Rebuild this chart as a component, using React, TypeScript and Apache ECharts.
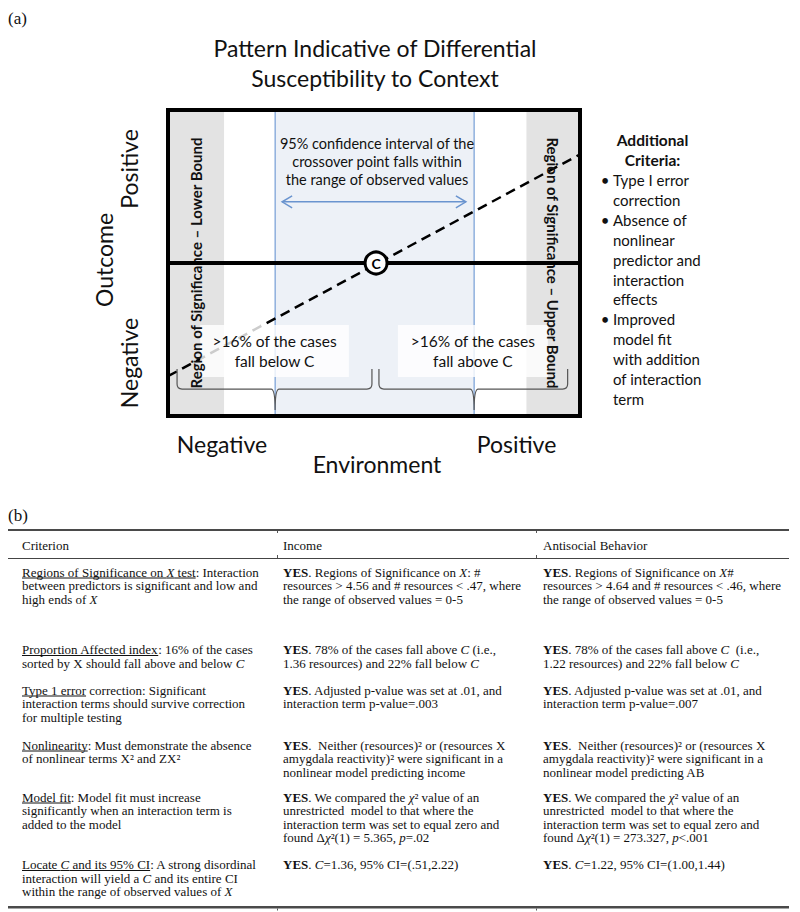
import React, { useEffect, useRef } from "react";
import * as echarts from "echarts";

const SANS = "Lato, 'Open Sans', sans-serif";
const SERIF = "'Liberation Serif', 'Times New Roman', serif";

// ---------- (a) diagram values ----------
const titleLines = ["Pattern Indicative of Differential", "Susceptibility to Context"];
const xRange = [0, 100];
const yRange = [-1, 1];
const lowerRegion = [0, 13.6];
const upperRegion = [87, 100];
const ciRegion = [26, 74.3];
const crossoverPoint = [50.5, 0];
const dashedTrend = [
  [0, -0.74],
  [100, 0.71],
];
const zeroLine = [
  [0, 0],
  [100, 0],
];
const ciArrow = [27.7, 72.3, 0.4];
const ciTextLines = [
  "95% confidence interval of the",
  "crossover point falls within",
  "the range of observed values",
];
const caseBoxes = [
  [7.8, 43.9, -0.405, -0.745],
  [55.8, 92.2, -0.405, -0.745],
];
const caseBoxTexts = [">16% of the cases\nfall below C", ">16% of the cases\nfall above C"];
const braceSpans = [
  [2.2, 26, 49.5],
  [51.2, 74.3, 97],
];
const braceLevels = [-0.693, -0.824, -0.961];
const regionTexts = ["Region of Significance \u2013 Lower Bound", "Region of Significance \u2013 Upper Bound"];
const yAxisWords = ["Positive", "Outcome", "Negative"];
const xAxisWords = ["Negative", "Environment", "Positive"];
const criteriaHeading = ["Additional", "Criteria:"];
const criteriaBullets = [
  ["Type I error", "correction"],
  ["Absence of", "nonlinear", "predictor and", "interaction", "effects"],
  ["Improved", "model fit", "with addition", "of interaction", "term"],
];

// ---------- (b) table values ----------
type Seg = [string, string];
type Line = Seg[];
type Cell = Line[];

const tableHeader = ["Criterion", "Income", "Antisocial Behavior"];

const criterionCol: Cell[] = [
  [
    [["u", "Regions of Significance on "], ["ui", "X"], ["u", " test"], ["n", ": Interaction"]],
    [["n", "between predictors is significant and low and"]],
    [["n", "high ends of "], ["i", "X"]],
  ],
  [
    [["u", "Proportion Affected index"], ["n", ": 16% of the cases"]],
    [["n", "sorted by X should fall above and below "], ["i", "C"]],
  ],
  [
    [["u", "Type 1 error"], ["n", " correction: Significant"]],
    [["n", "interaction terms should survive correction"]],
    [["n", "for multiple testing"]],
  ],
  [
    [["u", "Nonlinearity"], ["n", ": Must demonstrate the absence"]],
    [["n", "of nonlinear terms X\u00b2 and ZX\u00b2"]],
  ],
  [
    [["u", "Model fit"], ["n", ": Model fit must increase"]],
    [["n", "significantly when an interaction term is"]],
    [["n", "added to the model"]],
  ],
  [
    [["u", "Locate "], ["ui", "C"], ["u", " and its 95% CI"], ["n", ": A strong disordinal"]],
    [["n", "interaction will yield a "], ["i", "C"], ["n", " and its entire CI"]],
    [["n", "within the range of observed values of "], ["i", "X"]],
  ],
];

const incomeCol: Cell[] = [
  [
    [["b", "YES"], ["n", ". Regions of Significance on "], ["i", "X"], ["n", ": #"]],
    [["n", "resources > 4.56 and # resources < .47, where"]],
    [["n", "the range of observed values = 0-5"]],
  ],
  [
    [["b", "YES"], ["n", ". 78% of the cases fall above "], ["i", "C"], ["n", " (i.e.,"]],
    [["n", "1.36 resources) and 22% fall below "], ["i", "C"]],
  ],
  [
    [["b", "YES"], ["n", ". Adjusted p-value was set at .01, and"]],
    [["n", "interaction term p-value=.003"]],
  ],
  [
    [["b", "YES"], ["n", ".  Neither (resources)\u00b2 or (resources X"]],
    [["n", "amygdala reactivity)\u00b2 were significant in a"]],
    [["n", "nonlinear model predicting income"]],
  ],
  [
    [["b", "YES"], ["n", ". We compared the "], ["i", "\u03c7"], ["n", "\u00b2 value of an"]],
    [["n", "unrestricted  model to that where the"]],
    [["n", "interaction term was set to equal zero and"]],
    [["n", "found \u0394"], ["i", "\u03c7"], ["n", "\u00b2(1) = 5.365, "], ["i", "p"], ["n", "=.02"]],
  ],
  [[["b", "YES"], ["n", ". "], ["i", "C"], ["n", "=1.36, 95% CI=(.51,2.22)"]]],
];

const antisocialCol: Cell[] = [
  [
    [["b", "YES"], ["n", ". Regions of Significance on "], ["i", "X"], ["n", "#"]],
    [["n", "resources > 4.64 and # resources < .46, where"]],
    [["n", "the range of observed values = 0-5"]],
  ],
  [
    [["b", "YES"], ["n", ". 78% of the cases fall above "], ["i", "C"], ["n", "  (i.e.,"]],
    [["n", "1.22 resources) and 22% fall below "], ["i", "C"]],
  ],
  [
    [["b", "YES"], ["n", ". Adjusted p-value was set at .01, and"]],
    [["n", "interaction term p-value=.007"]],
  ],
  [
    [["b", "YES"], ["n", ".  Neither (resources)\u00b2 or (resources X"]],
    [["n", "amygdala reactivity)\u00b2 were significant in a"]],
    [["n", "nonlinear model predicting AB"]],
  ],
  [
    [["b", "YES"], ["n", ". We compared the "], ["i", "\u03c7"], ["n", "\u00b2 value of an"]],
    [["n", "unrestricted  model to that where the"]],
    [["n", "interaction term was set to equal zero and"]],
    [["n", "found \u0394"], ["i", "\u03c7"], ["n", "\u00b2(1) = 273.327, "], ["i", "p"], ["n", "<.001"]],
  ],
  [[["b", "YES"], ["n", ". "], ["i", "C"], ["n", "=1.22, 95% CI=(1.00,1.44)"]]],
];

// ---------- layout ----------
const COL_X = [22, 283, 543];
const ROW_TOPS = [572, 649.5, 690, 745, 797, 864.5];
const LINE_H = 13.5;
const TFS = 13;

function tableElements(): any[] {
  const canvas = document.createElement("canvas");
  const ctx = canvas.getContext("2d") as CanvasRenderingContext2D;
  const fontOf = (st: string) =>
    `${st.indexOf("i") >= 0 ? "italic " : ""}${st === "b" ? "bold " : ""}${TFS}px ${SERIF}`;
  const measure = (t: string, st: string) => {
    ctx.font = fontOf(st);
    return ctx.measureText(t).width;
  };
  const base = { fontFamily: SERIF, fontSize: TFS, fill: "#111" };
  const rich: any = {
    n: { ...base },
    i: { ...base, fontStyle: "italic" },
    b: { ...base, fontWeight: "bold" },
    u: { ...base },
    ui: { ...base, fontStyle: "italic" },
  };
  const els: any[] = [];
  const cols = [criterionCol, incomeCol, antisocialCol];
  cols.forEach((col, c) => {
    col.forEach((cell, r) => {
      cell.forEach((line, l) => {
        const x = COL_X[c];
        const y = ROW_TOPS[r] + l * LINE_H;
        els.push({
          type: "text",
          x,
          y,
          z: 50,
          style: {
            text: line.map(([s, t]) => `{${s}|${t}}`).join(""),
            rich,
            ...base,
            align: "left",
            verticalAlign: "middle",
            textAlign: "left",
            textVerticalAlign: "middle",
          },
        });
        let off = 0;
        line.forEach(([s, t]) => {
          const w = measure(t, s);
          if (s === "u" || s === "ui") {
            els.push({
              type: "line",
              z: 50,
              shape: { x1: x + off, y1: y + 6, x2: x + off + w, y2: y + 6 },
              style: { stroke: "#111", lineWidth: 1 },
            });
          }
          off += w;
        });
      });
    });
  });
  tableHeader.forEach((h, c) => {
    els.push({
      type: "text",
      x: COL_X[c],
      y: 545,
      z: 50,
      style: { text: h, ...base, align: "left", verticalAlign: "middle", textAlign: "left", textVerticalAlign: "middle" },
    });
  });
  // rules
  els.push({ type: "rect", z: 40, shape: { x: 8, y: 529, width: 781, height: 2 }, style: { fill: "#4a4a4a" } });
  els.push({ type: "rect", z: 40, shape: { x: 8, y: 558, width: 781, height: 1 }, style: { fill: "#444" } });
  els.push({ type: "rect", z: 40, shape: { x: 8, y: 906, width: 781, height: 2.5 }, style: { fill: "#4a4a4a" } });
  [277, 536].forEach((tx) => {
    els.push({ type: "rect", z: 40, shape: { x: tx, y: 531, width: 1, height: 2 }, style: { fill: "#555" } });
    els.push({ type: "rect", z: 40, shape: { x: tx, y: 555, width: 1, height: 3 }, style: { fill: "#555" } });
    els.push({ type: "rect", z: 40, shape: { x: tx, y: 908.5, width: 1, height: 2 }, style: { fill: "#555" } });
  });
  return els;
}

function sansText(text: string, x: number, y: number, size: number, opts: any = {}) {
  return {
    type: "text",
    x,
    y,
    z: 60,
    rotation: opts.rotation || 0,
    style: {
      text,
      fontFamily: opts.family || SANS,
      fontSize: size,
      fontWeight: opts.weight || "normal",
      fill: "#111",
      align: opts.align || "center",
      verticalAlign: "middle",
      textAlign: opts.align || "center",
      textVerticalAlign: "middle",
    },
  };
}

function diagramTexts(): any[] {
  const els: any[] = [];
  els.push(sansText("(a)", 8, 18, 17, { family: SERIF, align: "left" }));
  els.push(sansText("(b)", 8, 515, 17, { family: SERIF, align: "left" }));
  titleLines.forEach((t, i) => els.push(sansText(t, 375, 48 + i * 29.5, 23)));
  ciTextLines.forEach((t, i) => els.push(sansText(t, 377, 143 + i * 18, 14.5)));
  // y axis words (rotated)
  els.push(sansText(yAxisWords[0], 128.5, 169, 23, { rotation: Math.PI / 2 }));
  els.push(sansText(yAxisWords[1], 104, 260, 23, { rotation: Math.PI / 2 }));
  els.push(sansText(yAxisWords[2], 128.5, 363, 23, { rotation: Math.PI / 2 }));
  // x axis words
  els.push(sansText(xAxisWords[0], 222, 444, 23));
  els.push(sansText(xAxisWords[1], 377, 464, 23));
  els.push(sansText(xAxisWords[2], 516.5, 444, 23));
  // additional criteria
  criteriaHeading.forEach((t, i) => els.push(sansText(t, 652.5, 140 + i * 19.5, 15.5, { weight: "bold" })));
  let idx = 0;
  criteriaBullets.forEach((group) => {
    group.forEach((t, j) => {
      const y = 180 + idx * 19.9;
      if (j === 0) els.push(sansText("\u2022", 605, y, 15));
      els.push(sansText(t, 613, y, 15, { align: "left" }));
      idx++;
    });
  });
  return els;
}

export default function App() {
  const ref = useRef<HTMLDivElement>(null);
  useEffect(() => {
    document.body.style.margin = "0";
    if (!ref.current) return;
    const chart = echarts.init(ref.current, null, { renderer: "svg", width: 800, height: 912 });
    const option: any = {
      animation: false,
      backgroundColor: "#fff",
      grid: {
        left: 168,
        top: 110,
        width: 412,
        height: 306,
        show: true,
        borderColor: "#000",
        borderWidth: 4,
        backgroundColor: "rgba(0,0,0,0)",
        z: 10,
      },
      xAxis: { type: "value", min: xRange[0], max: xRange[1], show: false },
      yAxis: { type: "value", min: yRange[0], max: yRange[1], show: false },
      series: [
        {
          type: "custom",
          name: "bands",
          z: 1,
          silent: true,
          data: [
            [lowerRegion[0], lowerRegion[1], 0],
            [upperRegion[0], upperRegion[1], 0],
            [ciRegion[0], ciRegion[1], 1],
          ],
          renderItem: (params: any, api: any) => {
            const x1 = api.value(0);
            const x2 = api.value(1);
            const kind = api.value(2);
            const p1 = api.coord([x1, yRange[1]]);
            const p2 = api.coord([x2, yRange[0]]);
            const rect = {
              type: "rect",
              shape: { x: p1[0], y: p1[1], width: p2[0] - p1[0], height: p2[1] - p1[1] },
              style: { fill: kind ? "#edf1f7" : "#e3e3e3" },
            };
            if (!kind) return rect;
            return {
              type: "group",
              children: [
                rect,
                { type: "line", shape: { x1: p1[0], y1: p1[1], x2: p1[0], y2: p2[1] }, style: { stroke: "#5b8ccf", lineWidth: 1 } },
                { type: "line", shape: { x1: p2[0], y1: p1[1], x2: p2[0], y2: p2[1] }, style: { stroke: "#5b8ccf", lineWidth: 1 } },
              ],
            };
          },
        },
        {
          type: "line",
          name: "trend",
          z: 2,
          silent: true,
          showSymbol: false,
          symbol: "none",
          data: dashedTrend,
          lineStyle: { color: "#000", width: 2.5, type: [10, 6] },
        },
        {
          type: "custom",
          name: "caseBoxes",
          z: 3,
          silent: true,
          data: caseBoxes,
          renderItem: (params: any, api: any) => {
            const p1 = api.coord([api.value(0), api.value(2)]);
            const p2 = api.coord([api.value(1), api.value(3)]);
            return {
              type: "group",
              children: [
                {
                  type: "rect",
                  shape: { x: p1[0], y: p1[1], width: p2[0] - p1[0], height: p2[1] - p1[1] },
                  style: { fill: "rgba(255,255,255,0.8)" },
                },
                {
                  type: "text",
                  x: (p1[0] + p2[0]) / 2,
                  y: (p1[1] + p2[1]) / 2,
                  style: {
                    text: caseBoxTexts[params.dataIndex],
                    fontFamily: SANS,
                    fontSize: 15.5,
                    lineHeight: 20,
                    fill: "#111",
                    align: "center",
                    verticalAlign: "middle",
                    textAlign: "center",
                    textVerticalAlign: "middle",
                  },
                },
              ],
            };
          },
        },
        {
          type: "custom",
          name: "regionLabels",
          z: 4,
          silent: true,
          data: [
            [(lowerRegion[0] + lowerRegion[1]) / 2, 0, 1],
            [(upperRegion[0] + upperRegion[1]) / 2, 0, -1],
          ],
          renderItem: (params: any, api: any) => {
            const p = api.coord([api.value(0), api.value(1)]);
            return {
              type: "text",
              x: p[0],
              y: p[1],
              rotation: (api.value(2) * Math.PI) / 2,
              style: {
                text: regionTexts[params.dataIndex],
                fontFamily: SANS,
                fontSize: 15,
                fontWeight: "bold",
                fill: "#111",
                align: "center",
                verticalAlign: "middle",
                textAlign: "center",
                textVerticalAlign: "middle",
              },
            };
          },
        },
        {
          type: "line",
          name: "zero",
          z: 5,
          silent: true,
          showSymbol: false,
          symbol: "none",
          data: zeroLine,
          lineStyle: { color: "#000", width: 4 },
        },
        {
          type: "custom",
          name: "braces",
          z: 5,
          silent: true,
          data: braceSpans,
          renderItem: (params: any, api: any) => {
            const x0 = api.value(0);
            const xt = api.value(1);
            const xe = api.value(2);
            const a = api.coord([x0, braceLevels[0]]);
            const m = api.coord([x0, braceLevels[1]]);
            const t = api.coord([xt, braceLevels[2]]);
            const e = api.coord([xe, braceLevels[0]]);
            const ym = m[1];
            const r = 5;
            const q = 4;
            const d = [
              `M${a[0]},${a[1]}`,
              `L${a[0]},${ym - r}`,
              `Q${a[0]},${ym} ${a[0] + r},${ym}`,
              `L${t[0] - q},${ym}`,
              `Q${t[0]},${ym} ${t[0]},${t[1]}`,
              `Q${t[0]},${ym} ${t[0] + q},${ym}`,
              `L${e[0] - r},${ym}`,
              `Q${e[0]},${ym} ${e[0]},${ym - r}`,
              `L${e[0]},${e[1]}`,
            ].join(" ");
            return {
              type: "path",
              shape: { pathData: d },
              style: { stroke: "#555", lineWidth: 1.2, fill: "none" },
            };
          },
        },
        {
          type: "custom",
          name: "ciArrow",
          z: 5,
          silent: true,
          data: [ciArrow],
          renderItem: (params: any, api: any) => {
            const p1 = api.coord([api.value(0), api.value(2)]);
            const p2 = api.coord([api.value(1), api.value(2)]);
            const st = { stroke: "#6a94cf", lineWidth: 1.5, fill: "none" };
            return {
              type: "group",
              children: [
                { type: "line", shape: { x1: p1[0], y1: p1[1], x2: p2[0], y2: p2[1] }, style: st },
                {
                  type: "polyline",
                  shape: { points: [[p1[0] + 10, p1[1] - 6], [p1[0], p1[1]], [p1[0] + 10, p1[1] + 6]] },
                  style: st,
                },
                {
                  type: "polyline",
                  shape: { points: [[p2[0] - 10, p2[1] - 6], [p2[0], p2[1]], [p2[0] - 10, p2[1] + 6]] },
                  style: st,
                },
              ],
            };
          },
        },
        {
          type: "scatter",
          name: "crossover",
          z: 6,
          silent: true,
          symbol: "circle",
          symbolSize: 22,
          data: [crossoverPoint],
          itemStyle: { color: "#fff", borderColor: "#000", borderWidth: 3, opacity: 1 },
          label: {
            show: true,
            position: "inside",
            formatter: "C",
            color: "#000",
            fontFamily: SANS,
            fontSize: 14,
            fontWeight: "bold",
          },
        },
      ],
      graphic: { elements: [...diagramTexts(), ...tableElements()] },
    };
    chart.setOption(option);
    return () => chart.dispose();
  }, []);
  return <div ref={ref} style={{ width: 800, height: 912 }} />;
}
